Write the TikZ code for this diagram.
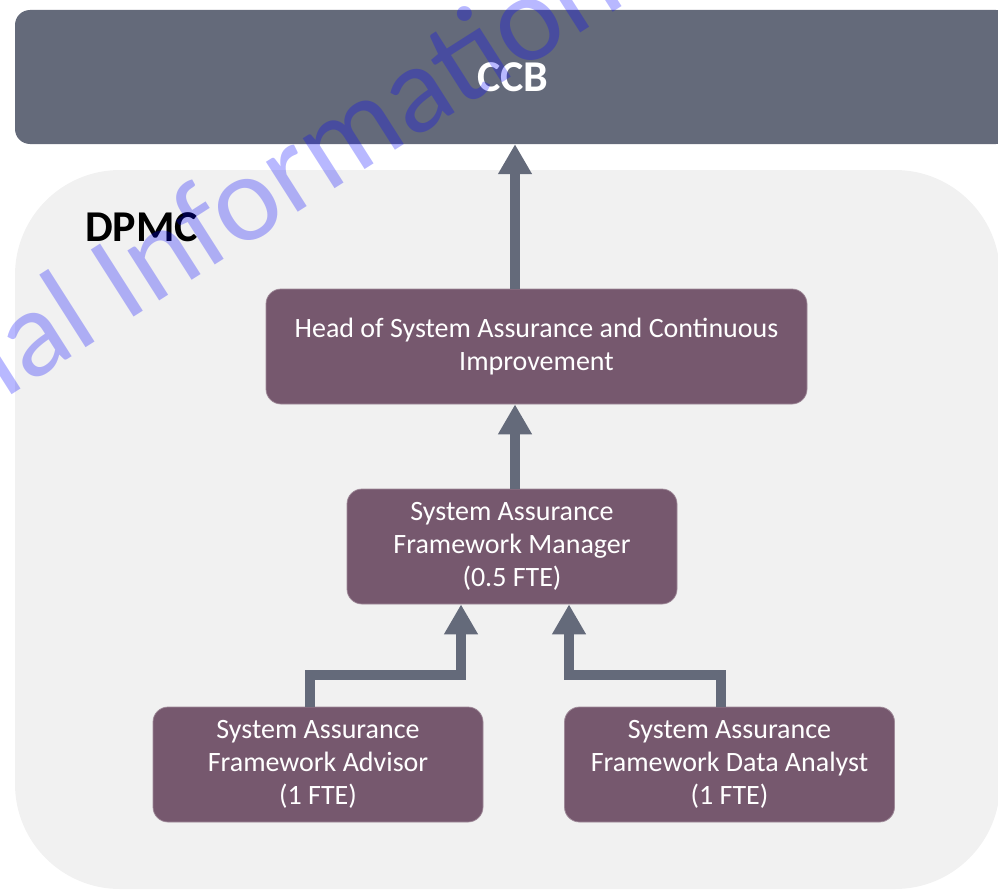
\documentclass[tikz,border=0pt]{standalone}
\usepackage{fontspec}
\setmainfont{Carlito}
\usetikzlibrary{arrows.meta}
\definecolor{ccbgrey}{RGB}{100,106,122}
\definecolor{rolepurple}{RGB}{118,88,110}
\definecolor{dpmcback}{RGB}{241,241,241}
\newcommand{\linkw}{10pt}
\newcommand{\roleh}{115pt}

\tikzset{
  rolebox/.style={fill=rolepurple, draw=rolepurple!70!white, line width=0.75pt,
    text=white, rounded corners=15pt, minimum height=\roleh, inner sep=0pt,
    align=center, font=\fontsize{28}{33}\selectfont},
  link/.style={draw=ccbgrey, line width=\linkw, line join=miter,
    -{Triangle[length=30pt,width=32pt]}},
}

\begin{document}
\begin{tikzpicture}[x=1pt,y=-1pt]
    \useasboundingbox (0,0) rectangle (998,891);
    \clip (0,0) rectangle (998,891);
    % containers
    \fill[dpmcback, rounded corners=105pt] (15,170) rectangle (1000,889);
    \node[fill=ccbgrey, rounded corners=15pt, minimum width=996pt, minimum height=134pt,
          inner sep=0pt, text=white, font=\fontsize{44}{50}\selectfont\bfseries] (ccb) at (513,77) {CCB};
    \node[anchor=base west, inner sep=0pt, font=\fontsize{44}{50}\selectfont\bfseries] (dpmc) at (85,241) {DPMC};
    % roles
    \node[rolebox, minimum width=541pt] (head) at (536.5,346.5)
        {Head of System Assurance and Continuous\\Improvement};
    \node[rolebox, minimum width=330pt] (manager) at (512,546.5)
        {System Assurance\\Framework Manager\\(0.5 FTE)};
    \node[rolebox, minimum width=330pt] (advisor) at (318,764.5)
        {System Assurance\\Framework Advisor\\(1 FTE)};
    \node[rolebox, minimum width=330pt] (analyst) at (729.5,764.5)
        {System Assurance\\Framework Data Analyst\\(1 FTE)};
    % reporting lines
    \draw[link] ([xshift=3pt]head.north -| manager.north) -- ([xshift=3pt]ccb.south -| manager.north);
    \draw[link] ([xshift=3pt]manager.north) -- ([xshift=3pt]head.south -| manager.north);
    \draw[link] ([xshift=-8pt]advisor.north) -- ++(0,-32) -| ([xshift=-51pt]manager.south);
    \draw[link] ([xshift=-8.5pt]analyst.north) -- ++(0,-32) -| ([xshift=57pt]manager.south);
    % watermark
    \node[rotate=32.5, anchor=base west, inner sep=0pt, text=blue, text opacity=0.28,
          font=\fontsize{124}{130}\selectfont] (wmark) at (4,400) {ial Information};
\end{tikzpicture}
\end{document}
